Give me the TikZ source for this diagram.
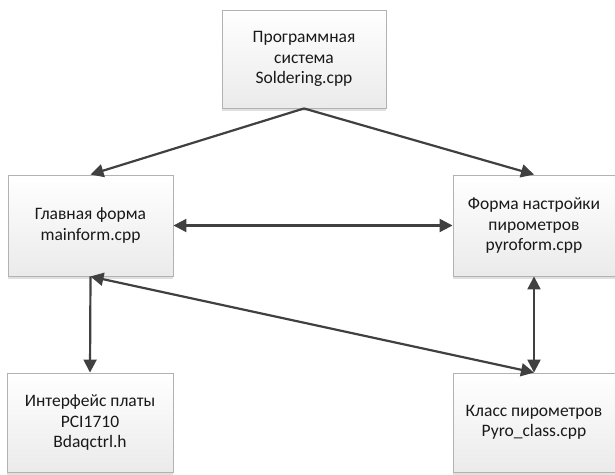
\documentclass[tikz,border=0pt]{standalone}
\usepackage{fontspec}
\setmainfont{Carlito}
\usetikzlibrary{arrows.meta,shadows}
\begin{document}
\begin{tikzpicture}[x=1pt,y=-1pt,
  box/.style={draw=gray!60, line width=0.9pt, top color=white, bottom color=gray!16,
    drop shadow={shadow xshift=0pt, shadow yshift=-2.5pt, fill=gray!40, opacity=0.6},
    align=center, inner sep=2pt,
    font=\fontsize{17.5}{20.5}\selectfont, text=black!90},
  tip/.tip={Triangle[length=13pt,width=13pt]},
  conn/.style={draw=black!75, line width=2.2pt, -tip},
  biconn/.style={conn, tip-tip}
]
\useasboundingbox (0,0) rectangle (615,474);
\node[box, minimum width=164pt, minimum height=98pt] (top) at (304,59) {Программная\\система\\Soldering.cpp};
\node[box, minimum width=165pt, minimum height=101pt] (left) at (90.5,225.5) {Главная форма\\mainform.cpp};
\node[box, minimum width=162pt, minimum height=101pt] (right) at (534,225.5) {Форма настройки\\пирометров\\pyroform.cpp};
\node[box, minimum width=166pt, minimum height=99pt] (bl) at (90,422.5) {Интерфейс платы\\PCI1710\\Bdaqctrl.h};
\node[box, minimum width=162pt, minimum height=99pt] (br) at (534,422.5) {Класс пирометров\\Pyro\_class.cpp};
\draw[conn] (top.south) -- (left.north);
\draw[conn] (top.south) -- (right.north);
\draw[biconn] (left.east) -- (right.west);
\draw[conn] (left.south) -- (bl.north);
\draw[biconn] (left.south) -- (br.north);
\draw[biconn] (right.south) -- (br.north);
\end{tikzpicture}
\end{document}
